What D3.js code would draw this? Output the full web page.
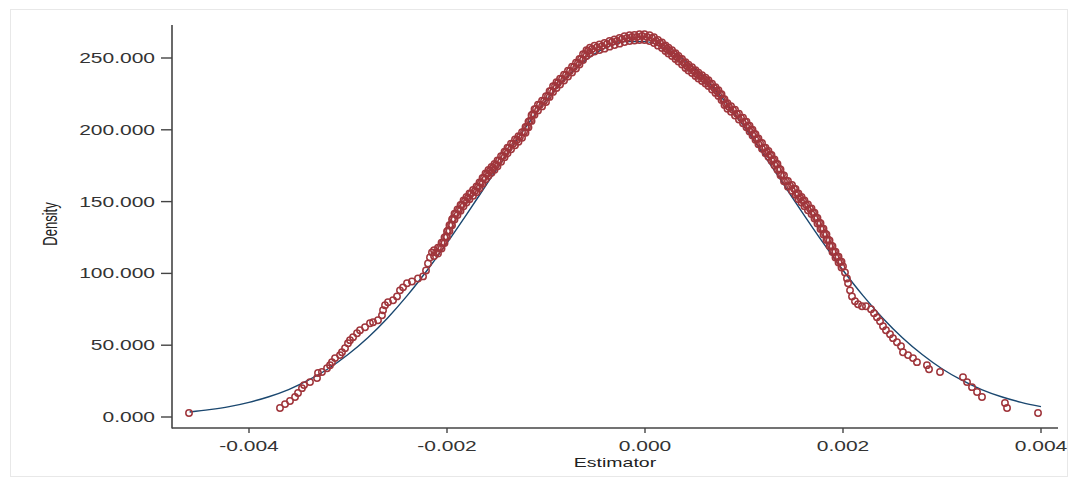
<!DOCTYPE html>
<html><head><meta charset="utf-8">
<script src="https://cdn.jsdelivr.net/npm/d3@7"></script>
<style>html,body{margin:0;padding:0;background:#fff;}svg{display:block;}</style>
</head><body><div id="chart"></div>
<script>
// ---------- data ----------
const xTicks = [-0.004, -0.002, 0.000, 0.002, 0.004];
const xTickLabels = ["-0.004", "-0.002", "0.000", "0.002", "0.004"];
const yTicks = [0, 50, 100, 150, 200, 250];
const yTickLabels = ["0.000", "50.000", "100.000", "150.000", "200.000", "250.000"];
const xTitle = "Estimator";
const yTitle = "Density";

// normal density overlay
const curveX = [-0.0046,-0.0044,-0.0042,-0.0040,-0.0038,-0.0036,-0.0034,-0.0032,-0.0030,-0.0028,-0.0026,-0.0024,-0.0022,-0.0020,-0.0018,-0.0016,-0.0014,-0.0012,-0.0010,-0.0008,-0.0006,-0.0004,-0.0002,0.0000,0.0002,0.0004,0.0006,0.0008,0.0010,0.0012,0.0014,0.0016,0.0018,0.0020,0.0022,0.0024,0.0026,0.0028,0.0030,0.0032,0.0034,0.0036,0.0038,0.0040];
const curveY = [3.5,5.1,7.2,10.2,14.1,19.1,25.6,33.6,43.5,55.2,69.0,84.7,102.2,121.2,141.3,162.0,182.6,202.3,220.4,236.0,248.4,257.0,261.4,261.4,257.0,248.4,236.0,220.4,202.3,182.6,162.0,141.3,121.2,102.2,84.7,69.0,55.2,43.5,33.6,25.6,19.1,14.1,10.2,7.2];

// kernel density points (estimator, density)
const estimator = [-0.004606,-0.003687,-0.003636,-0.003586,-0.003535,-0.003505,-0.003465,-0.003444,-0.003384,-0.003313,-0.003303,-0.003263,-0.003212,-0.003182,-0.003162,-0.003131,-0.003081,-0.003061,-0.003030,-0.003000,-0.002980,-0.002949,-0.002909,-0.002879,-0.002828,-0.002778,-0.002747,-0.002697,-0.002657,-0.002646,-0.002626,-0.002596,-0.002545,-0.002505,-0.002475,-0.002444,-0.002404,-0.002354,-0.002293,-0.002242,-0.002212,-0.002192,-0.002172,-0.002152,-0.002111,-0.002071,-0.002040,-0.002010,-0.001990,-0.001960,-0.001939,-0.001909,-0.001879,-0.001848,-0.001818,-0.001788,-0.001758,-0.001717,-0.001687,-0.001657,-0.001626,-0.001596,-0.001566,-0.001535,-0.001505,-0.001475,-0.001434,-0.001404,-0.001374,-0.001333,-0.001293,-0.001263,-0.001222,-0.001192,-0.001162,-0.001131,-0.001101,-0.001061,-0.001020,-0.000980,-0.000949,-0.000909,-0.000879,-0.000838,-0.000798,-0.000758,-0.000717,-0.000677,-0.000646,-0.000606,-0.000576,-0.000535,-0.000485,-0.000434,-0.000384,-0.000333,-0.000283,-0.000232,-0.000182,-0.000131,-0.000081,-0.000030,0.000020,0.000071,0.000111,0.000152,0.000192,0.000222,0.000253,0.000293,0.000323,0.000354,0.000394,0.000424,0.000455,0.000495,0.000525,0.000556,0.000596,0.000626,0.000657,0.000697,0.000727,0.000758,0.000788,0.000818,0.000848,0.000889,0.000929,0.000970,0.001010,0.001040,0.001071,0.001101,0.001131,0.001162,0.001202,0.001232,0.001263,0.001293,0.001323,0.001354,0.001384,0.001424,0.001465,0.001505,0.001535,0.001566,0.001596,0.001626,0.001667,0.001697,0.001727,0.001758,0.001788,0.001818,0.001848,0.001879,0.001909,0.001939,0.001970,0.002000,0.002020,0.002040,0.002051,0.002071,0.002091,0.002121,0.002152,0.002192,0.002232,0.002283,0.002313,0.002343,0.002374,0.002404,0.002434,0.002475,0.002505,0.002545,0.002586,0.002606,0.002657,0.002707,0.002747,0.002848,0.002869,0.002980,0.003212,0.003253,0.003303,0.003354,0.003404,0.003636,0.003657,0.003970];
const density = [2.8,6.3,9.0,11.1,13.9,16.7,20.1,22.2,24.3,27.1,30.6,31.3,34.0,36.1,38.2,41.0,43.1,45.1,47.9,51.4,53.5,55.6,58.3,60.4,62.5,65.3,66.0,67.4,70.8,74.3,77.8,79.9,81.3,84.0,88.2,90.3,93.1,94.4,96.5,97.9,102.1,106.9,111.1,114.6,114.6,118.1,121.5,125.7,129.9,134.0,138.2,141.7,144.4,147.9,150.7,152.8,155.6,157.6,160.4,163.2,166.7,169.4,171.5,173.6,175.7,178.5,181.9,184.7,187.5,190.3,193.1,195.1,198.6,202.1,206.3,211.1,214.6,217.4,220.1,223.6,227.1,230.6,232.6,235.4,238.2,241.0,243.8,246.5,249.3,252.8,254.9,256.3,257.6,258.3,259.7,261.1,261.8,263.2,263.9,264.6,264.6,265.3,264.6,263.9,261.8,260.4,258.3,256.3,254.9,252.8,250.7,249.3,246.5,244.4,243.1,241.0,238.9,237.5,235.4,234.0,231.9,229.2,227.1,225.0,221.5,218.1,216.0,213.9,211.1,208.3,205.6,202.8,200.0,197.2,193.8,191.0,187.5,184.7,182.6,179.2,176.4,172.9,168.8,164.6,161.1,159.0,155.6,152.8,150.7,147.9,145.1,142.4,138.9,135.4,131.3,127.8,123.6,119.4,115.3,111.8,108.3,104.9,100.7,96.5,93.1,88.2,84.0,80.6,78.5,77.1,77.1,75.0,72.2,69.4,66.7,63.2,60.4,57.6,54.9,52.1,49.3,45.1,43.1,41.0,38.2,36.1,33.3,31.3,27.8,24.3,20.8,17.4,13.9,9.7,6.3,2.8];

// densely packed points inside the thick band (lower and upper edge of the band)
const bandEstimator = [-0.002131,-0.002091,-0.002055,-0.002025,-0.002000,-0.001975,-0.001949,-0.001924,-0.001894,-0.001863,-0.001833,-0.001803,-0.001773,-0.001737,-0.001702,-0.001672,-0.001641,-0.001611,-0.001581,-0.001550,-0.001520,-0.001490,-0.001454,-0.001419,-0.001389,-0.001353,-0.001313,-0.001278,-0.001242,-0.001207,-0.001177,-0.001146,-0.001116,-0.001081,-0.001040,-0.001000,-0.000964,-0.000929,-0.000894,-0.000858,-0.000818,-0.000778,-0.000737,-0.000697,-0.000662,-0.000626,-0.000591,-0.000556,-0.000510,-0.000460,-0.000409,-0.000358,-0.000308,-0.000257,-0.000207,-0.000156,-0.000106,-0.000056,-0.000005,0.000046,0.000091,0.000131,0.000172,0.000207,0.000237,0.000273,0.000308,0.000338,0.000374,0.000409,0.000439,0.000475,0.000510,0.000540,0.000576,0.000611,0.000641,0.000677,0.000712,0.000742,0.000773,0.000803,0.000833,0.000869,0.000909,0.000949,0.000990,0.001025,0.001056,0.001086,0.001116,0.001146,0.001182,0.001217,0.001247,0.001278,0.001308,0.001338,0.001369,0.001404,0.001444,0.001485,0.001520,0.001550,0.001581,0.001611,0.001646,0.001682,0.001712,0.001742,0.001773,0.001803,0.001833,0.001864,0.001894,0.001924,0.001955,0.001985];
const bandDensityLow = [112.1,113.9,117.3,121.1,125.3,129.5,133.6,137.5,140.6,143.7,146.8,149.3,151.7,154.1,156.5,159.3,162.5,165.6,168.0,170.1,172.2,174.6,177.7,180.8,183.6,186.4,189.2,191.6,194.4,197.9,201.7,206.2,210.4,213.5,216.3,219.4,222.9,226.4,229.1,231.5,234.3,237.1,239.9,242.7,245.4,248.6,251.4,253.1,254.5,255.5,256.5,257.9,259.0,260.0,261.1,261.8,262.1,262.5,262.5,261.8,260.4,258.6,256.9,254.8,253.1,251.4,249.3,247.5,245.4,243.0,241.3,239.6,237.5,235.7,234.0,232.2,230.5,228.1,225.7,223.6,220.8,217.3,214.6,212.5,210.0,207.2,204.5,201.7,198.9,196.1,193.0,189.9,186.8,183.6,181.2,178.4,175.3,172.2,168.4,164.2,160.4,157.6,154.8,151.7,149.3,146.8,144.0,141.3,138.2,134.7,130.9,127.1,123.2,119.0,114.9,111.1,107.6,104.1];
const bandDensityHigh = [116.1,117.9,121.3,125.1,129.3,133.5,137.6,141.5,144.6,147.7,150.8,153.3,155.7,158.1,160.5,163.3,166.5,169.6,172.0,174.1,176.2,178.6,181.7,184.8,187.6,190.4,193.2,195.6,198.4,201.9,205.7,210.2,214.4,217.5,220.3,223.4,226.9,230.4,233.1,235.5,238.3,241.1,243.9,246.7,249.4,252.6,255.4,257.1,258.5,259.5,260.5,261.9,263.0,264.0,265.1,265.8,266.1,266.5,266.5,265.8,264.4,262.6,260.9,258.8,257.1,255.4,253.3,251.5,249.4,247.0,245.3,243.6,241.5,239.7,238.0,236.2,234.5,232.1,229.7,227.6,224.8,221.3,218.6,216.5,214.0,211.2,208.5,205.7,202.9,200.1,197.0,193.9,190.8,187.6,185.2,182.4,179.3,176.2,172.4,168.2,164.4,161.6,158.8,155.7,153.3,150.8,148.0,145.3,142.2,138.7,134.9,131.1,127.2,123.0,118.9,115.1,111.6,108.1];

// ---------- drawing ----------
const W = 1075, H = 482;
const svg = d3.select("#chart").append("svg").attr("width", W).attr("height", H);
const textFont = "'Liberation Sans', Arial, sans-serif";
const stretch = 1.5;

svg.append("rect").attr("x", 10.5).attr("y", 9.5).attr("width", 1057).attr("height", 467)
  .attr("fill", "#fff").attr("stroke", "#e8e8e8").attr("stroke-width", 1);

const x = d3.scaleLinear().domain([-0.004, 0.004]).range([249, 1041]);
const y = d3.scaleLinear().domain([0, 250]).range([417, 58]);

const axisColor = "#444";
const plotLeft = 172, plotRight = 1058, plotTop = 25, plotBottom = 428;

// axis lines
svg.append("line").attr("x1", plotLeft).attr("x2", plotLeft).attr("y1", plotTop).attr("y2", plotBottom + 0.5)
  .attr("stroke", axisColor).attr("stroke-width", 1.6);
svg.append("line").attr("x1", plotLeft).attr("x2", plotRight).attr("y1", plotBottom).attr("y2", plotBottom)
  .attr("stroke", axisColor).attr("stroke-width", 1.6);

// y ticks
const yAxisG = svg.append("g");
yTicks.forEach((v, i) => {
  const py = y(v);
  yAxisG.append("line").attr("x1", plotLeft - 11).attr("x2", plotLeft).attr("y1", py).attr("y2", py)
    .attr("stroke", axisColor).attr("stroke-width", 1.4);
  yAxisG.append("text").attr("transform", `translate(${plotLeft - 17},${py + 5}) scale(${stretch},1)`)
    .attr("text-anchor", "end").attr("font-family", textFont).attr("font-size", 14)
    .attr("fill", "#333").text(yTickLabels[i]);
});

// x ticks
const xAxisG = svg.append("g");
xTicks.forEach((v, i) => {
  const px = x(v);
  xAxisG.append("line").attr("x1", px).attr("x2", px).attr("y1", plotBottom).attr("y2", plotBottom + 5)
    .attr("stroke", axisColor).attr("stroke-width", 1.4);
  xAxisG.append("text").attr("transform", `translate(${px},${plotBottom + 23}) scale(${stretch},1)`)
    .attr("text-anchor", "middle").attr("font-family", textFont).attr("font-size", 14)
    .attr("fill", "#333").text(xTickLabels[i]);
});

// titles
svg.append("text").attr("transform", `translate(615,467) scale(${stretch},1)`)
  .attr("text-anchor", "middle").attr("font-family", textFont).attr("font-size", 13)
  .attr("fill", "#222").text(xTitle);
svg.append("text").attr("transform", `translate(57,224) scale(${stretch},1) rotate(-90)`)
  .attr("text-anchor", "middle").attr("font-family", textFont).attr("font-size", 13)
  .attr("fill", "#222").text(yTitle);

// normal curve
const line = d3.line().x((d, i) => x(curveX[i])).y((d, i) => y(curveY[i])).curve(d3.curveMonotoneX);
svg.append("path").datum(curveY).attr("d", line).attr("fill", "none")
  .attr("stroke", "#1a476f").attr("stroke-width", 1.4);

// density points
const pts = estimator.map((e, i) => ({ e, d: density[i] }))
  .concat(bandEstimator.map((e, i) => ({ e, d: bandDensityLow[i] })))
  .concat(bandEstimator.map((e, i) => ({ e, d: bandDensityHigh[i] })));
svg.append("g").selectAll("circle").data(pts).join("circle")
  .attr("cx", (p) => x(p.e)).attr("cy", (p) => y(p.d)).attr("r", 3.2)
  .attr("fill", "none").attr("stroke", "#a0363c").attr("stroke-width", 1.5);
</script></body></html>
